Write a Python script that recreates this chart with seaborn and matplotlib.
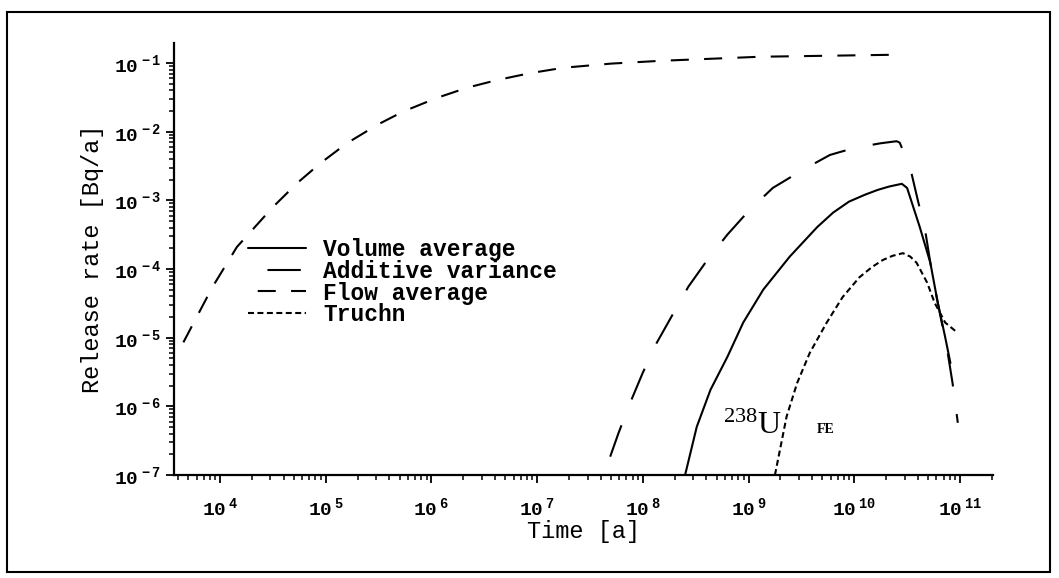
import numpy as np
import pandas as pd
import matplotlib
matplotlib.use("Agg")
import matplotlib.pyplot as plt
import seaborn as sns
from matplotlib.ticker import LogLocator, FixedLocator, FixedFormatter, NullFormatter
from matplotlib.patches import Rectangle

# ---------------- data (log10 values) ----------------
flow_log_t = [3.62, 3.65, 3.80, 3.93, 4.16, 4.50, 4.73, 4.95, 5.20, 5.49, 5.73, 6.05,
              6.34, 6.62, 6.93, 7.25, 7.70, 8.16, 9.11, 10.43]
flow_log_r = [-5.20, -5.08, -4.64, -4.26, -3.68, -3.10, -2.75, -2.46, -2.17, -1.90, -1.71,
              -1.51, -1.36, -1.25, -1.15, -1.07, -1.01, -0.97, -0.91, -0.88]

addvar_log_t = [7.63, 7.77, 7.88, 8.00, 8.13, 8.28, 8.43, 8.61, 8.80, 9.01, 9.23,
                9.51, 9.77, 9.95, 10.10, 10.25, 10.40, 10.43, 10.53, 10.60, 10.67, 10.72,
                10.78, 10.88, 10.93, 10.98]
addvar_log_r = [-7.00, -6.39, -5.95, -5.51, -5.08, -4.67, -4.26, -3.87, -3.50, -3.14,
                -2.82, -2.56, -2.34, -2.26, -2.21, -2.17, -2.14, -2.16, -2.53, -2.99,
                -3.43, -3.91, -4.41, -5.18, -5.66, -6.24]

volume_log_t = [8.40, 8.51, 8.64, 8.80, 8.95, 9.14, 9.39, 9.65, 9.80, 9.95, 10.10,
                10.22, 10.33, 10.45, 10.50, 10.62, 10.72, 10.79, 10.86, 10.91]
volume_log_r = [-7.00, -6.30, -5.76, -5.28, -4.78, -4.30, -3.82, -3.39, -3.18, -3.02,
                -2.92, -2.85, -2.80, -2.76, -2.82, -3.39, -3.91, -4.49, -4.99, -5.37]

truchn_log_t = [9.25, 9.36, 9.46, 9.58, 9.74, 9.89, 10.05, 10.17, 10.27, 10.36, 10.46,
                10.53, 10.59, 10.69, 10.76, 10.86, 10.97]
truchn_log_r = [-7.00, -6.15, -5.66, -5.22, -4.78, -4.41, -4.12, -3.97, -3.87, -3.81,
                -3.77, -3.82, -3.91, -4.20, -4.49, -4.78, -4.92]

series_names = ["Volume average", "Additive variance", "Flow average", "Truchn"]

y_tick_exps = [-1, -2, -3, -4, -5, -6, -7]
y_tick_labels = [r"$\mathregular{10^{\ -1}}$", r"$\mathregular{10^{\ -2}}$",
                 r"$\mathregular{10^{\ -3}}$", r"$\mathregular{10^{\ -4}}$",
                 r"$\mathregular{10^{\ -5}}$", r"$\mathregular{10^{\ -6}}$",
                 r"$\mathregular{10^{\ -7}}$"]
x_tick_exps = [4, 5, 6, 7, 8, 9, 10, 11]
x_tick_labels = [r"$\mathregular{10^{\ 4}}$", r"$\mathregular{10^{\ 5}}$",
                 r"$\mathregular{10^{\ 6}}$", r"$\mathregular{10^{\ 7}}$",
                 r"$\mathregular{10^{\ 8}}$", r"$\mathregular{10^{\ 9}}$",
                 r"$\mathregular{10^{\ 10}}$", r"$\mathregular{10^{\ 11}}$"]

x_label = "Time [a]"
y_label = "Release rate [Bq/a]"
nuclide_label = r"$\mathregular{^{238}}$U"
subscript_label = "FE"

# ---------------- styling ----------------
sns.set_theme(style="ticks")
plt.rcParams.update({
    "font.family": ["Liberation Mono", "DejaVu Sans"],
    "font.weight": "bold",
    "lines.scale_dashes": False,
    "mathtext.fontset": "custom",
    "mathtext.rm": "Liberation Mono:bold",
    "mathtext.it": "Liberation Mono:bold",
    "mathtext.bf": "Liberation Mono:bold",
    "axes.edgecolor": "black",
    "xtick.color": "black",
    "ytick.color": "black",
    "text.color": "black",
    "axes.labelcolor": "black",
})

fig = plt.figure(figsize=(10.59, 5.78), dpi=100)
fig.patch.set_facecolor("white")
ax = fig.add_axes([0.1643, 0.1782, 0.7734, 0.7474])
ax.set_facecolor("white")

def frame(t, r, name):
    return pd.DataFrame({"t": 10.0 ** np.asarray(t), "r": 10.0 ** np.asarray(r), "name": name})

lw = 1.5
sns.lineplot(data=frame(volume_log_t, volume_log_r, series_names[0]), x="t", y="r",
             ax=ax, color="black", lw=lw, linestyle="-", label=series_names[0],
             sort=False, estimator=None)
sns.lineplot(data=frame(addvar_log_t, addvar_log_r, series_names[1]), x="t", y="r",
             ax=ax, color="black", lw=lw, linestyle=(30, (24, 20)), label=series_names[1],
             sort=False, estimator=None)
sns.lineplot(data=frame(flow_log_t, flow_log_r, series_names[2]), x="t", y="r",
             ax=ax, color="black", lw=lw, linestyle=(17, (13, 11)), label=series_names[2],
             sort=False, estimator=None)
sns.lineplot(data=frame(truchn_log_t, truchn_log_r, series_names[3]), x="t", y="r",
             ax=ax, color="black", lw=lw, linestyle=(0, (4.3, 2.5)), label=series_names[3],
             sort=False, estimator=None)

ax.set_xscale("log")
ax.set_yscale("log")
ax.set_xlim(10 ** 3.565, 10 ** 11.313)
ax.set_ylim(10 ** -7, 10 ** -0.71)

ax.xaxis.set_major_locator(FixedLocator([10.0 ** e for e in x_tick_exps]))
ax.xaxis.set_major_formatter(FixedFormatter(x_tick_labels))
ax.yaxis.set_major_locator(FixedLocator([10.0 ** e for e in y_tick_exps]))
ax.yaxis.set_major_formatter(FixedFormatter(y_tick_labels))
ax.xaxis.set_minor_locator(LogLocator(base=10, subs=range(2, 10), numticks=50))
ax.yaxis.set_minor_locator(LogLocator(base=10, subs=range(2, 10), numticks=50))
ax.xaxis.set_minor_formatter(NullFormatter())
ax.yaxis.set_minor_formatter(NullFormatter())

ax.tick_params(axis="both", which="major", direction="out", length=6, width=1.3, labelsize=14)
ax.tick_params(axis="both", which="minor", direction="out", length=3.6, width=1.1)
ax.tick_params(axis="x", which="major", pad=10)
ax.tick_params(axis="y", which="major", pad=3)

for s in ["top", "right"]:
    ax.spines[s].set_visible(False)
for s in ["left", "bottom"]:
    ax.spines[s].set_linewidth(1.6)

ax.set_xlabel(x_label, fontsize=17, labelpad=0)
ax.set_ylabel(y_label, fontsize=17, labelpad=7)

handles, labels = ax.get_legend_handles_labels()
ax.legend(handles, labels, loc="upper left", bbox_to_anchor=(0.0904, 0.548),
          frameon=False, fontsize=16.5, handlelength=2.53, handletextpad=0.74,
          labelspacing=-0.06, borderpad=0, borderaxespad=0)

# nuclide annotation
ax.text(10 ** 8.76, 10 ** -6.41, nuclide_label, fontsize=23, family="Liberation Serif",
        fontweight="normal", ha="left", va="baseline")
ax.text(10 ** 9.65, 10 ** -6.39, subscript_label, fontsize=10, family="Liberation Serif",
        fontweight="bold", ha="left", va="baseline")

# outer frame of the scanned figure
fig.patches.append(Rectangle((0.0066, 0.0104), 0.985, 0.969, transform=fig.transFigure,
                             fill=False, edgecolor="black", lw=1.5))

fig.savefig("out.png", dpi=100, facecolor="white")
